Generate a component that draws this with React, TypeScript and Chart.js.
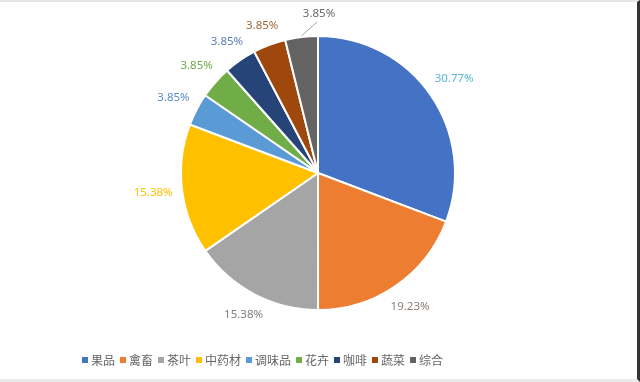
import React, { useEffect, useRef } from "react";
import { Chart, registerables } from "chart.js";

Chart.register(...registerables);

const categories = ["果品", "禽畜", "茶叶", "中药材", "调味品", "花卉", "咖啡", "蔬菜", "综合"];
const shares = [30.77, 19.23, 15.38, 15.38, 3.85, 3.85, 3.85, 3.85, 3.85];
const sliceColors = ["#4472C4", "#ED7D31", "#A5A5A5", "#FFC000", "#5B9BD5", "#70AD47", "#264478", "#9E480E", "#636363"];
const labelColors = ["#5ab6d2", "#8a7f79", "#7f7f7f", "#ffc000", "#5a8dc6", "#6aaa48", "#5a7fb5", "#a0673a", "#6b6b6b"];

const labelPlugin = {
  id: "outsideLabels",
  afterDatasetsDraw(chart: any) {
    const ctx = chart.ctx;
    const meta = chart.getDatasetMeta(0);
    const data = chart.data.datasets[0].data;
    const n = data.length;
    ctx.save();
    ctx.font = "11.5px 'Noto Sans', sans-serif";
    ctx.textAlign = "center";
    ctx.textBaseline = "middle";
    meta.data.forEach((arc: any, i: number) => {
      const p = arc.getProps(["x", "y", "startAngle", "endAngle", "outerRadius"], true);
      const mid = (p.startAngle + p.endAngle) / 2;
      const text = data[i].toFixed(2) + "%";
      const w = ctx.measureText(text).width;
      const h = 12;
      ctx.fillStyle = labelColors[i];
      if (i === n - 1) {
        const lx = p.x + 1;
        const ly = p.y - p.outerRadius - 22;
        ctx.strokeStyle = "#a6a6a6";
        ctx.lineWidth = 1;
        ctx.beginPath();
        ctx.moveTo(p.x + Math.cos(mid) * (p.outerRadius + 1), p.y + Math.sin(mid) * (p.outerRadius + 1));
        ctx.lineTo(lx - 2, ly + 8);
        ctx.stroke();
        ctx.fillText(text, lx, ly);
        return;
      }
      const ux = Math.cos(mid), uy = Math.sin(mid);
      const ext = Math.abs(ux) * w / 2 + Math.abs(uy) * h / 2;
      const d = p.outerRadius + 9 + ext;
      ctx.fillText(text, p.x + ux * d, p.y + uy * d);
    });
    ctx.restore();
  },
};

const legendPlugin = {
  id: "bottomLegend",
  afterDraw(chart: any) {
    const ctx = chart.ctx;
    const labels = chart.data.labels;
    const colors = chart.data.datasets[0].backgroundColor;
    ctx.save();
    ctx.font = "12px 'Noto Sans CJK SC', sans-serif";
    ctx.textBaseline = "middle";
    ctx.textAlign = "left";
    let x = 82;
    const y = 360;
    labels.forEach((lab: string, i: number) => {
      ctx.fillStyle = colors[i];
      ctx.fillRect(x, y - 3, 6, 6);
      ctx.fillStyle = "#666666";
      ctx.fillText(lab, x + 9, y);
      x += 9 + ctx.measureText(lab).width + 5;
    });
    ctx.restore();
  },
};

export default function App() {
  const ref = useRef<HTMLCanvasElement>(null);
  useEffect(() => {
    if (!ref.current) return;
    const chart = new Chart(ref.current, {
      type: "pie",
      data: {
        labels: categories,
        datasets: [
          {
            data: shares,
            backgroundColor: sliceColors,
            borderColor: "#ffffff",
            borderWidth: 2,
          },
        ],
      },
      options: {
        responsive: false,
        animation: false,
        layout: { padding: { left: 180, right: 184, top: 35, bottom: 71 } },
        plugins: { legend: { display: false }, tooltip: { enabled: false } },
      },
      plugins: [labelPlugin, legendPlugin],
    });
    return () => chart.destroy();
  }, []);
  return (
    <div style={{ position: "fixed", left: 0, top: 0, width: 640, height: 382, background: "#fff" }}>
      <canvas ref={ref} width={640} height={382} style={{ position: "absolute", left: 0, top: 0 }} />
      <div
        style={{
          position: "absolute",
          left: 0,
          top: 0,
          width: 640,
          height: 382,
          boxSizing: "border-box",
          borderTop: "2px solid #e6e6e6",
          borderBottom: "3px solid #ebebeb",
          borderRight: "3px solid #333",
          pointerEvents: "none",
        }}
      />
    </div>
  );
}
